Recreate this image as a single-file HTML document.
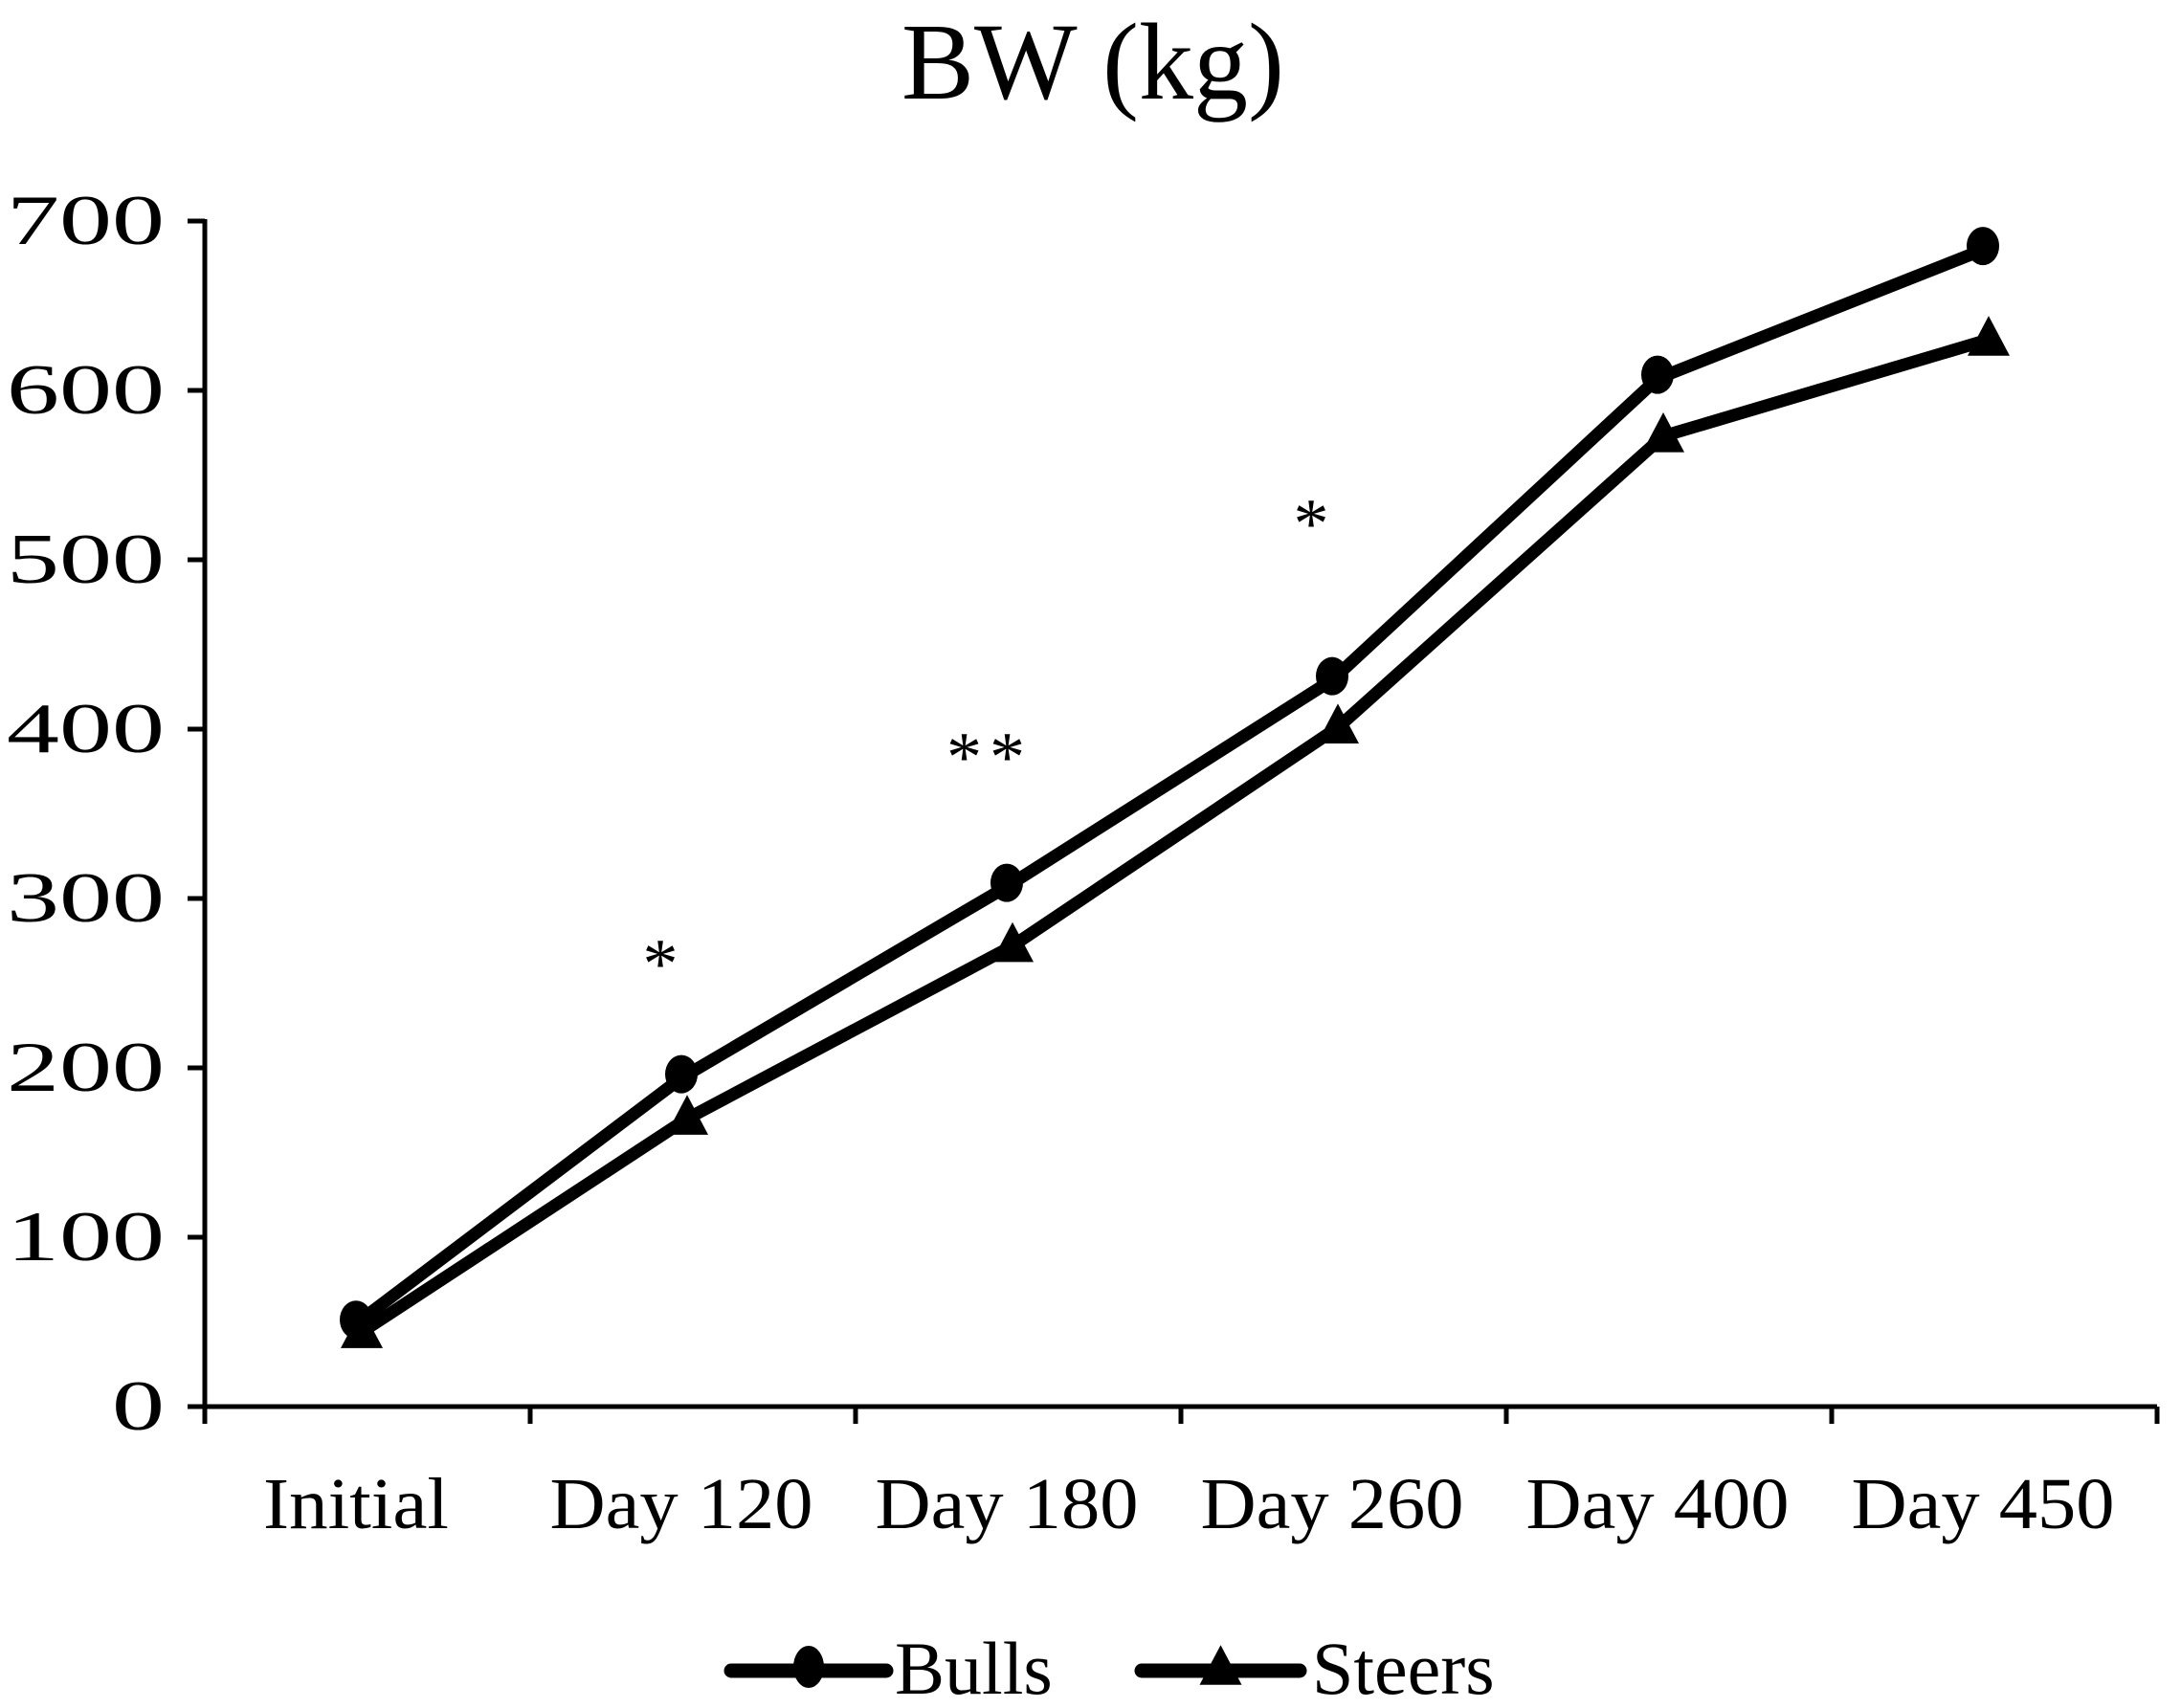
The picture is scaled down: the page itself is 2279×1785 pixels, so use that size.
<!DOCTYPE html>
<html><head><meta charset="utf-8"><style>
html,body{margin:0;padding:0;background:#fff;}
svg{display:block;font-family:"Liberation Serif",serif;}
</style></head><body>
<svg id="chart" width="2279" height="1785" viewBox="0 0 2279 1785" xmlns="http://www.w3.org/2000/svg">
<text x="1142" y="103" font-size="114" text-anchor="middle">BW (kg)</text>
<g id="axes"></g>
<g id="series"></g>
<g id="legend"></g>
</svg>
<script>
const categories = ["Initial","Day 120","Day 180","Day 260","Day 400","Day 450"];
const bulls = [49, 194, 307, 429, 607, 683];
const steers = [44, 170, 272, 401, 573, 630];
const yTicks = [0,100,200,300,400,500,600,700];
const sigLabels = ["", "*", "**", "*", "", ""];
const sigValues = [null, 270, 392, 530, null, null];

const NS="http://www.w3.org/2000/svg";
const L=214, R=2254, Y0=1470, Y700=231;
const yMax=700;
function yS(v){return Y0-(v/yMax)*(Y0-Y700);}
const bw=(R-L)/categories.length;
function xS(i){return L+bw*(i+0.5)-12;}
function mk(tag,attrs,parent){const e=document.createElementNS(NS,tag);for(const k in attrs)e.setAttribute(k,attrs[k]);parent.appendChild(e);return e;}
const axes=document.getElementById('axes'), ser=document.getElementById('series'), leg=document.getElementById('legend');

let e=mk('line',{x1:L,y1:Y700-2,x2:L,y2:Y0+16,stroke:'#000','stroke-width':5},axes);


e=mk('line',{x1:L-18,y1:Y0,x2:R,y2:Y0,stroke:'#000','stroke-width':5},axes);


yTicks.forEach(v=>{
  const t=mk('line',{x1:L-18,y1:yS(v),x2:L,y2:yS(v),stroke:'#000','stroke-width':5},axes);
  
  
  const s=String(v);
  const tx=mk('text',{x:L-42,y:yS(v)+24,'font-size':74,'text-anchor':'end',textLength:s.length*55,lengthAdjust:'spacingAndGlyphs'},axes);
  tx.textContent=s;
  
  
});
for(let i=0;i<=categories.length;i++){
  const x=L+bw*i;
  const t=mk('line',{x1:x,y1:Y0,x2:x,y2:Y0+18,stroke:'#000','stroke-width':5},axes);
  
  
}
categories.forEach((c,i)=>{
  const tx=mk('text',{x:L+bw*(i+0.5)-12,y:1597,'font-size':76,'text-anchor':'middle',textLength:c.length===7&&c[0]==='I'?194:275,lengthAdjust:'spacingAndGlyphs'},axes);
  tx.textContent=c;
  
  
});
function tri(x,y,s){return `${x},${y-s*0.62} ${x-s*0.55},${y+s*0.42} ${x+s*0.55},${y+s*0.42}`;}
function drawSeries(vals,name,marker,dx){
  const pts=vals.map((v,i)=>[xS(i)+dx,yS(v)]);
  const p=mk('polyline',{points:pts.map(p=>p.join(',')).join(' '),fill:'none',stroke:'#000','stroke-width':13,'stroke-linejoin':'round'},ser);
  
  
  pts.forEach(([x,y])=>{
    let m;
    if(marker==='circle') m=mk('ellipse',{cx:x,cy:y-4,rx:17,ry:20,fill:'#000'},ser);
    else m=mk('polygon',{points:tri(x,y,40),fill:'#000'},ser);
    
    
  });
}
drawSeries(bulls,'bulls','circle',0);
drawSeries(steers,'steers','triangle',6);
sigLabels.forEach((s,i)=>{
  if(!s) return;
  const tx=mk('text',{x:xS(i)-18,y:yS(sigValues[i])+40,'font-size':74,'text-anchor':'middle','letter-spacing':8},ser);
  tx.textContent=s;
  
  
});
function legItem(x1,x2,tx,label,marker,name){
  const g=mk('g',{},leg);
  
  
  mk('line',{x1:x1,y1:1746,x2:x2,y2:1746,stroke:'#000','stroke-width':15,'stroke-linecap':'round'},g);
  const mx=(x1+x2)/2;
  if(marker==='circle') mk('ellipse',{cx:mx,cy:1742,rx:16,ry:22,fill:'#000'},g);
  else mk('polygon',{points:tri(mx,1744,40),fill:'#000'},g);
  const t=mk('text',{x:tx,y:1770,'font-size':78},g);
  t.textContent=label;
}
legItem(764,926,935,'Bulls','circle','legend-bulls');
legItem(1193,1358,1371,'Steers','triangle','legend-steers');
</script>
</body></html>
